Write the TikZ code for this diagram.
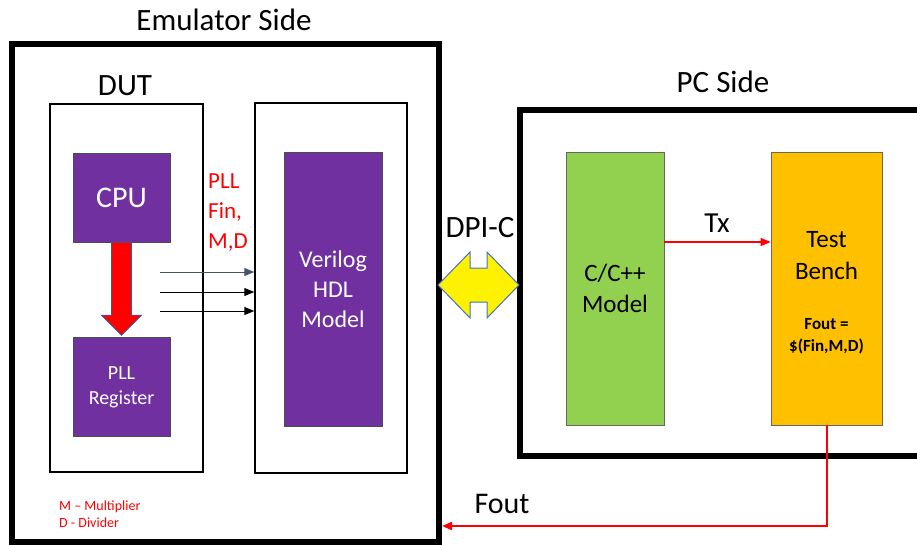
\documentclass[tikz,border=0pt]{standalone}
\usepackage{fontspec}
\setmainfont{Carlito}
\usetikzlibrary{arrows.meta,positioning}
\definecolor{hdlpurple}{HTML}{7030A0}
\definecolor{modelgreen}{HTML}{92D050}
\definecolor{benchorange}{HTML}{FFC000}
\definecolor{dpiblue}{HTML}{4472C4}
\definecolor{slate}{HTML}{44546A}

\begin{document}
\begin{tikzpicture}[x=1pt, y=-1pt, >={Triangle[length=10pt,width=8pt]},
  side/.style={draw, line width=6pt, inner sep=0pt},
  frame/.style={draw, line width=1.5pt, inner sep=0pt},
  hdlblock/.style={draw=black!70, fill=hdlpurple, text=white, inner sep=0pt, align=center},
  pcblock/.style={draw=black!60, line width=0.8pt, inner sep=0pt, align=center},
  title/.style={font=\fontsize{31}{37}\selectfont, anchor=base, inner sep=0pt},
  note/.style={text=red, align=left, anchor=west, inner sep=0pt}]
  \useasboundingbox (0,0) rectangle (917,545);
  \clip (0,0) rectangle (917,545);
  \fill [white] (0,0) rectangle (917,545);

  \node [side, minimum width=427pt, minimum height=498pt] (emu) at (225.5,293) {};
  \node [side, minimum width=420pt, minimum height=346pt] (pc) at (730,283) {};
  \node [frame, minimum width=153pt, minimum height=368pt] (dut) at (126.5,288) {};
  \node [frame, minimum width=152pt, minimum height=370pt] (vout) at (331,288) {};

  \node [hdlblock, minimum width=97pt, minimum height=89pt, font=\fontsize{30}{36}\selectfont] (cpu) at (121.5,197.5) {CPU};
  \node [hdlblock, minimum width=97pt, minimum height=99pt, font=\fontsize{20}{25}\selectfont, below=95pt of cpu] (pllreg) {PLL\\Register};
  \node [hdlblock, minimum width=98pt, minimum height=274pt, font=\fontsize{24}{30}\selectfont] (vlog) at (333,289) {Verilog\\HDL\\Model};

  \node [pcblock, fill=modelgreen, minimum width=98pt, minimum height=273pt, font=\fontsize{25}{31}\selectfont] (model) at (615,288.5) {C/C++\\Model};
  \node [pcblock, fill=benchorange, minimum width=111pt, minimum height=273pt] (bench) at (826.5,288.5) {};
  \node [align=center, font=\fontsize{25}{32}\selectfont] (benchlbl) at (826.5,256) {Test\\Bench};
  \node [align=center, font=\bfseries\fontsize{17}{22}\selectfont] (foutlbl) at (826.5,336) {Fout =\\\$(Fin,M,D)};

  \node [title] (emulbl) at (224,31) {Emulator Side};
  \node [title] (dutlbl) at (125,96) {DUT};
  \node [title] (pclbl) at (723,93) {PC Side};
  \node [title] (dpilbl) at (480,237) {DPI-C};
  \node [title, font=\fontsize{29}{35}\selectfont] (txlbl) at (717,233) {Tx};
  \node [title, font=\fontsize{30}{36}\selectfont] (foutret) at (502,513) {Fout};
  \node [note, font=\fontsize{23}{30}\selectfont] (plllbl) at (208,213) {PLL\\Fin,\\M,D};
  \node [note, font=\fontsize{14}{17}\selectfont] (legend) at (59,514) {M -- Multiplier\\D - Divider};

  \draw [fill=red, draw=dpiblue!80!black, line width=0.8pt] ([xshift=-10pt]cpu.south) -- ([xshift=-10pt,yshift=22pt]pllreg.north) -- ([xshift=-20pt,yshift=22pt]pllreg.north) -- ([yshift=2pt]pllreg.north) -- ([xshift=20pt,yshift=22pt]pllreg.north) -- ([xshift=10pt,yshift=22pt]pllreg.north) -- ([xshift=10pt]cpu.south) -- cycle;

  \foreach \y/\c in {272/slate, 292/black, 311/black} {
    \coordinate (s\y) at (160,\y);
    \draw [->, \c, line width=1pt] (s\y) -- (s\y -| vout.west);
  }

  \draw [fill=yellow, draw=dpiblue, line width=1pt] (438,285) -- (470,252) -- (470,268) -- (487,268) -- (487,252) -- (519,285) -- (487,318) -- (487,302) -- (470,302) -- (470,318) -- cycle;

  \draw [->, red, line width=1.2pt] ([yshift=46.5pt]model.east) -- ([yshift=46.5pt]bench.west);
  \coordinate (ret) at (emu.east |- 0,526);
  \draw [->, red, line width=2pt] (bench.south) |- (ret);
\end{tikzpicture}
\end{document}
